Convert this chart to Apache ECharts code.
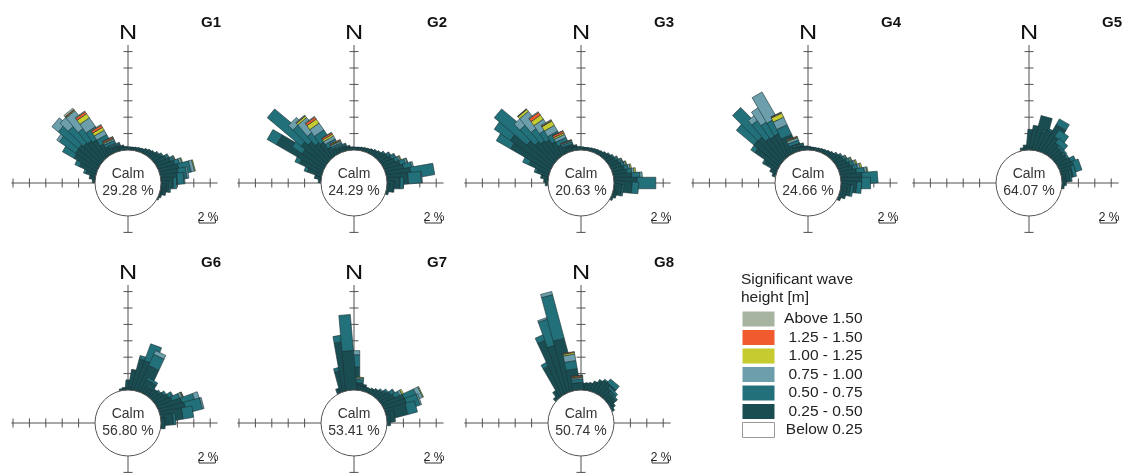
<!DOCTYPE html>
<html><head><meta charset="utf-8">
<script src="https://cdn.jsdelivr.net/npm/echarts@6/dist/echarts.min.js"></script>
<style>html,body{margin:0;padding:0;background:#fff}#c{width:1128px;height:476px}</style>
</head><body><div id="c"></div>
<script>
// ---------- DATA ----------
const STATIONS = ['G1','G2','G3','G4','G5','G6','G7','G8'];
const CALM = [29.28, 24.29, 20.63, 24.66, 64.07, 56.80, 53.41, 50.74];
const CLASS_NAMES = ['0.25 - 0.50','0.50 - 0.75','0.75 - 1.00','1.00 - 1.25','1.25 - 1.50','Above 1.50'];
const CALM_NAME = 'Below 0.25';
const LEGEND_TITLE = 'Significant wave\nheight [m]';

// directions (deg from N) and frequency (%) per wave-height class
const G1_dir = [280,285,290,295,300,305,310,315,320,325,330,335,340,345,350,355,0,5,10,15,20,25,30,35,40,45,50,55,60,65,70,75,80,85,90,95,100,105,110];
const G1_h1 = [0.3,0.6,1.2,2.2,3.2,3.3,3.3,3.0,2.8,2.5,1.6,1.0,0.7,0.5,0.4,0.35,0.3,0.3,0.3,0.35,0.4,0.45,0.5,0.6,0.7,0.8,1.0,1.2,1.5,1.8,2.1,2.4,2.2,2.0,1.5,1.0,0.6,0.3,0.15];
const G1_h2 = [0,0.1,0.3,0.6,1.6,2.4,3.2,2.6,1.8,1.4,0.8,0.4,0.2,0.1,0,0,0,0,0,0,0,0,0,0.05,0.1,0.1,0.15,0.2,0.3,0.4,0.6,1.4,1.0,0.8,0.4,0.2,0.1,0,0];
const G1_h3 = [0,0,0,0,0,0.4,1.0,1.4,2.3,1.3,0.6,0.2,0.1,0,0,0,0,0,0,0,0,0,0,0,0,0,0,0,0.1,0.15,0.3,0.4,0.2,0.1,0,0,0,0,0];
const G1_h4 = [0,0,0,0,0,0,0,0,0.1,0.6,0.4,0.1,0,0,0,0,0,0,0,0,0,0,0,0,0,0,0,0,0,0.05,0.1,0.1,0,0,0,0,0,0,0];
const G1_h5 = [0,0,0,0,0,0,0,0,0.1,0.3,0.3,0.15];
const G1_h6 = [0,0,0,0,0,0,0,0,0.2,0.1,0.1,0.05];

const G2_dir = [280,285,290,295,300,305,310,315,320,325,330,335,340,345,350,355,0,5,10,15,20,25,30,35,40,45,50,55,60,65,70,75,80,85,90,95,100];
const G2_h1 = [0.3,0.7,1.8,3.0,6.5,3.2,3.8,3.2,2.5,2.2,1.2,0.8,0.6,0.45,0.35,0.3,0.3,0.3,0.3,0.35,0.4,0.45,0.5,0.55,0.65,0.8,1.0,1.2,1.4,1.6,2.0,2.3,3.0,2.6,1.6,0.8,0.3];
const G2_h2 = [0,0.1,0.4,0.6,1.3,1.5,5.4,2.6,1.5,1.2,0.6,0.3,0.2,0.1,0,0,0,0,0,0,0,0,0,0.05,0.1,0.1,0.2,0.35,0.5,0.5,0.7,1.0,2.85,1.6,0.4,0.1,0];
const G2_h3 = [0,0,0,0,0,0,0,0.8,1.8,1.0,0.4,0.2,0.1,0,0,0,0,0,0,0,0,0,0,0,0,0,0,0.05,0.1,0.2,0.25,0.2,0,0.1,0,0,0];
const G2_h4 = [0,0,0,0,0,0,0,0,0.25,0.6,0.25,0.1,0,0,0,0,0,0,0,0,0,0,0,0,0,0,0,0,0,0.1,0.05,0,0,0,0,0,0];
const G2_h5 = [0,0,0,0,0,0,0,0,0.05,0.3,0.2,0.1];
const G2_h6 = [0,0,0,0,0,0,0,0,0.1,0.1,0.05,0];

const G3_dir = [275,280,285,290,295,300,305,310,315,320,325,330,335,340,345,350,355,0,5,10,15,20,25,30,35,40,45,50,55,60,65,70,75,80,85,90,95,100,105,110];
const G3_h1 = [0.3,0.5,0.8,1.5,2.7,5.5,6.0,4.0,3.2,2.8,2.5,1.9,1.2,0.8,0.55,0.4,0.35,0.3,0.3,0.3,0.3,0.35,0.4,0.45,0.5,0.55,0.65,0.8,0.9,1.0,1.2,1.3,1.5,1.7,2.2,2.8,2.2,1.0,0.5,0.25];
const G3_h2 = [0,0,0.1,0.3,0.8,2.0,2.4,5.2,2.6,1.8,1.3,1.0,0.6,0.3,0.1,0,0,0,0,0,0,0,0,0,0,0,0.05,0.1,0.2,0.3,0.3,0.4,0.5,0.6,1.0,2.3,0.8,0.2,0,0];
const G3_h3 = [0,0,0,0,0,0,0,0,1.0,2.2,1.2,0.8,0.4,0.15,0,0,0,0,0,0,0,0,0,0,0,0,0,0,0,0.1,0.15,0.2,0.25,0.3,0.3,0,0,0,0,0];
const G3_h4 = [0,0,0,0,0,0,0,0,0,0.3,0.6,0.6,0.2,0.05,0,0,0,0,0,0,0,0,0,0,0,0,0,0,0,0,0.05,0.1,0.15,0.2,0,0,0,0,0,0];
const G3_h5 = [0,0,0,0,0,0,0,0,0,0.05,0.4,0.1,0.25,0.05];
const G3_h6 = [0,0,0,0,0,0,0,0,0,0.05,0.1,0.1,0.05];

const G4_dir = [290,295,300,305,310,315,320,325,330,335,340,345,350,355,0,5,10,15,20,25,30,35,40,45,50,55,60,65,70,75,80,85,90,95,100,105,110];
const G4_h1 = [0.4,0.8,1.8,3.4,4.0,3.9,3.2,3.0,3.0,2.2,0.9,0.6,0.45,0.4,0.35,0.3,0.3,0.3,0.35,0.4,0.45,0.5,0.55,0.65,0.8,1.0,1.1,1.3,1.5,1.7,2.0,2.6,2.5,1.9,1.2,0.7,0.35];
const G4_h2 = [0,0,0.2,0.6,2.8,4.4,2.6,2.0,1.8,1.3,0.4,0.2,0,0,0,0,0,0,0,0,0,0,0.05,0.1,0.15,0.2,0.3,0.4,0.5,0.6,1.0,1.9,1.1,0.6,0.3,0.1,0];
const G4_h3 = [0,0,0,0,0,0,0.7,2.0,3.6,1.0,0.3,0.05,0,0,0,0,0,0,0,0,0,0,0,0,0.05,0.1,0.15,0.2,0.25,0.3,0.3,0,0,0,0,0,0];
const G4_h4 = [0,0,0,0,0,0,0,0,0,0.55,0.1,0,0,0,0,0,0,0,0,0,0,0,0,0,0,0,0.05,0.1,0.15,0.2,0.1,0,0,0,0,0,0];
const G4_h5 = [0,0,0,0,0,0,0,0,0,0.1,0.1];
const G4_h6 = [0,0,0,0,0,0,0,0,0,0.05];

const G5_dir = [355,0,5,10,15,20,25,30,35,40,45,50,55,60,65,70,75,80,85,90];
const G5_h1 = [0.3,0.6,2.5,3.0,4.3,2.4,2.8,3.8,2.4,1.8,1.5,1.4,1.3,1.4,1.7,1.8,1.4,1.0,0.5,0.25];
const G5_h2 = [0,0,0,0,0,0.2,0.2,0.8,1.0,0.7,0.3,0.2,0.2,0.3,0.6,0.8,0.4,0.2,0,0];
const G5_h3 = [];
const G5_h4 = [];
const G5_h5 = [];
const G5_h6 = [];

const G6_dir = [355,0,5,10,15,20,25,30,35,40,45,50,55,60,65,70,75,80,85,90];
const G6_h1 = [0.2,0.3,1.2,2.4,3.9,3.8,3.4,1.7,1.0,0.9,1.0,1.2,1.5,1.8,2.0,3.0,3.2,2.7,1.5,0.5];
const G6_h2 = [0,0,0,0.1,0.4,2.2,1.5,0.3,0.2,0.1,0.1,0.2,0.3,0.5,1.0,1.6,2.0,1.3,0.3,0];
const G6_h3 = [0,0,0,0,0,0,0.5,0,0,0,0,0,0,0.1,0.3,0.6,0.2,0,0,0];
const G6_h4 = [0,0,0,0,0,0,0,0,0,0,0,0,0,0,0.1,0,0,0,0,0];
const G6_h5 = [0,0,0,0,0,0,0,0,0,0,0,0,0,0,0.05,0,0,0,0,0];
const G6_h6 = [];

const G7_dir = [340,345,350,355,0,5,10,15,20,25,30,35,40,45,50,55,60,65,70,75,80,85];
const G7_h1 = [0.6,2.6,6.0,4.8,2.8,0.9,0.7,0.55,0.5,0.5,0.55,0.65,0.8,1.0,1.3,1.6,1.8,2.8,2.8,2.6,1.0,0.4];
const G7_h2 = [0,0.4,0.8,4.4,1.5,0.4,0.1,0,0,0,0,0.05,0.1,0.2,0.3,0.5,0.7,1.5,1.5,1.2,0,0];
const G7_h3 = [0,0,0,0,0.5,0.2,0,0,0,0,0,0,0,0,0,0.1,0.3,0.6,0.2,0,0,0];
const G7_h4 = [0,0,0,0,0,0.1,0,0,0,0,0,0,0,0,0,0,0.2,0.1,0,0,0,0];
const G7_h5 = [];
const G7_h6 = [];

const G8_dir = [320,325,330,335,340,345,350,355,0,5,10,15,20,25,30,35,40,45,50,55,60];
const G8_h1 = [0.4,1.0,4.0,7.0,6.0,6.5,2.6,0.9,0.8,0.7,0.8,0.9,1.0,1.3,1.6,1.8,1.8,1.3,1.0,0.6,0.3];
const G8_h2 = [0,0,0.5,0.7,3.3,5.5,1.0,0.4,0,0,0,0,0,0,0.1,0.2,0.6,0.3,0.2,0,0];
const G8_h3 = [0,0,0,0,0.2,0.4,0.8,0.2];
const G8_h4 = [0,0,0,0,0,0,0.2,0.1];
const G8_h5 = [0,0,0,0,0,0,0.1,0.15];
const G8_h6 = [0,0,0,0,0,0,0,0.05];

// ---------- STYLE / LAYOUT ----------
const FONT = "'Liberation Sans', Arial, Helvetica, sans-serif";
const COLORS = ['#1a4d52','#22707a','#6c9fab','#c6cc2f','#f05a2c','#a7b5a0'];
const BAR_EDGE = '#1b3034';
const AXIS_C = '#505050';
const CX = [128, 354, 581, 808, 1029, 128, 354, 581];
const CY = [183, 183, 183, 183, 183, 423, 423, 423];
const R_IN = 33, PX_PER_PCT = 8.2, R_MAX = 16, BAR_W = 11.5;
const ARMS = [[0, 12.8], [90, 6.9], [180, 2.0], [270, 10.2]];
const TICK_STEP = 2;

const ROSE_DIRS = [G1_dir, G2_dir, G3_dir, G4_dir, G5_dir, G6_dir, G7_dir, G8_dir];
const ROSE_CLASSES = [
  [G1_h1,G1_h2,G1_h3,G1_h4,G1_h5,G1_h6],
  [G2_h1,G2_h2,G2_h3,G2_h4,G2_h5,G2_h6],
  [G3_h1,G3_h2,G3_h3,G3_h4,G3_h5,G3_h6],
  [G4_h1,G4_h2,G4_h3,G4_h4,G4_h5,G4_h6],
  [G5_h1,G5_h2,G5_h3,G5_h4,G5_h5,G5_h6],
  [G6_h1,G6_h2,G6_h3,G6_h4,G6_h5,G6_h6],
  [G7_h1,G7_h2,G7_h3,G7_h4,G7_h5,G7_h6],
  [G8_h1,G8_h2,G8_h3,G8_h4,G8_h5,G8_h6]
];

// one stacked bar (all classes) per direction
function stackItem(params, api) {
  const ang = api.value(0);
  const c = api.coord([0, ang]), e = api.coord([1, ang]);
  let ux = e[0] - c[0], uy = e[1] - c[1];
  const L = Math.hypot(ux, uy); ux /= L; uy /= L;
  const nx = -uy * BAR_W / 2, ny = ux * BAR_W / 2;
  const children = [];
  let base = 0;
  for (let k = 0; k < COLORS.length; k++) {
    const v = api.value(k + 1) || 0;
    if (v <= 0) continue;
    const a = api.coord([base, ang]), b = api.coord([base + v, ang]);
    children.push({
      type: 'polygon',
      shape: { points: [[a[0]+nx, a[1]+ny], [b[0]+nx, b[1]+ny], [b[0]-nx, b[1]-ny], [a[0]-nx, a[1]-ny]] },
      style: { fill: COLORS[k], stroke: BAR_EDGE, lineWidth: 0.6 }
    });
    base += v;
  }
  return { type: 'group', children: children };
}

function makeAxisRender(idx) {
  return function (params, api) {
    const children = [];
    const cs = params.coordSys;
    const cx = cs.cx, cy = cs.cy;
    ARMS.forEach(function (arm) {
      const bearing = arm[0], len = arm[1];
      const a = api.coord([0, bearing]), b = api.coord([len, bearing]);
      children.push({ type: 'line', shape: { x1: a[0], y1: a[1], x2: b[0], y2: b[1] }, style: { stroke: AXIS_C, lineWidth: 1 } });
      let ux = b[0] - a[0], uy = b[1] - a[1];
      const L = Math.hypot(ux, uy); ux /= L; uy /= L;
      const nx = -uy * 4.5, ny = ux * 4.5;
      for (let t = TICK_STEP; t <= len + 1e-6; t += TICK_STEP) {
        const p = api.coord([t, bearing]);
        children.push({ type: 'line', shape: { x1: p[0]-nx, y1: p[1]-ny, x2: p[0]+nx, y2: p[1]+ny }, style: { stroke: AXIS_C, lineWidth: 1 } });
      }
    });
    const top = api.coord([ARMS[0][1], 0]);
    children.push({ type: 'text', x: top[0], y: top[1] - 1, scaleX: 1.2, originX: 0, originY: 0,
      style: { text: 'N', fontSize: 21, fill: '#111', align: 'center', verticalAlign: 'bottom', fontFamily: FONT } });
    children.push({ type: 'text', x: cx + 83, y: cy - 160, style: { text: STATIONS[idx], fontSize: 15, fontWeight: 'bold', fill: '#111', align: 'center', verticalAlign: 'middle', fontFamily: FONT } });
    // scale bar (2 %)
    const s0 = api.coord([0, 90]), s1 = api.coord([TICK_STEP, 90]);
    const sl = Math.hypot(s1[0] - s0[0], s1[1] - s0[1]);
    const bx = cx + 71, by = cy + 40;
    children.push({ type: 'polyline', shape: { points: [[bx, by - 4], [bx, by], [bx + sl, by], [bx + sl, by - 4]] }, style: { stroke: '#333', lineWidth: 1, fill: null } });
    children.push({ type: 'text', x: bx + sl / 2 + 1, y: by + 1, style: { text: TICK_STEP + ' %', fontSize: 12, fill: '#222', align: 'center', verticalAlign: 'bottom', fontFamily: FONT } });
    return { type: 'group', children: children };
  };
}

const polar = [], angleAxis = [], radiusAxis = [], series = [];
ROSE_DIRS.forEach(function (dirs, i) {
  polar.push({ center: [CX[i], CY[i]], radius: [R_IN, R_IN + PX_PER_PCT * R_MAX] });
  angleAxis.push({ polarIndex: i, type: 'value', min: 0, max: 360, startAngle: 90, clockwise: true, show: false });
  radiusAxis.push({ polarIndex: i, type: 'value', min: 0, max: R_MAX, show: false });
  series.push({
    type: 'custom', name: 'axes' + i, coordinateSystem: 'polar', polarIndex: i,
    data: [[0, 0]], encode: { angle: 0, radius: 1 }, renderItem: makeAxisRender(i),
    silent: true, animation: false, z: 1
  });
  const cls = ROSE_CLASSES[i];
  const rows = dirs.map(function (d, j) {
    return [d].concat(cls.map(function (arr) { return arr[j] || 0; }));
  }).sort(function (a, b) { return a[0] - b[0]; });
  series.push({
    type: 'custom', name: 'rose' + i, coordinateSystem: 'polar', polarIndex: i,
    encode: { angle: 0, radius: 1 }, data: rows, renderItem: stackItem,
    silent: true, animation: false, z: 2
  });
  series.push({
    type: 'pie', name: 'calm' + i, center: [CX[i], CY[i]], radius: R_IN,
    data: [{ name: CALM_NAME, value: CALM[i] }],
    itemStyle: { color: '#fff', borderColor: '#555', borderWidth: 1 },
    label: { show: true, position: 'center', formatter: 'Calm\n' + CALM[i].toFixed(2) + ' %', fontSize: 14, lineHeight: 17, color: '#333', fontFamily: FONT },
    labelLine: { show: false }, silent: true, animation: false, z: 5,
    emphasis: { disabled: true }
  });
});
// legend entries for the height classes
CLASS_NAMES.forEach(function (n, k) {
  series.push({ type: 'custom', name: n, coordinateSystem: 'polar', polarIndex: 0,
    itemStyle: { color: COLORS[k] }, data: [], renderItem: function () { return null; }, silent: true });
});

const legendData = CLASS_NAMES.map(function (n, k) { return { name: n, itemStyle: { color: COLORS[k], borderWidth: 0 } }; }).reverse();
legendData.push({ name: CALM_NAME, itemStyle: { color: '#fff', borderColor: '#999', borderWidth: 1 } });

const chart = echarts.init(document.getElementById('c'), null, { renderer: 'canvas' });
chart.setOption({
  animation: false,
  backgroundColor: '#fff',
  title: { text: LEGEND_TITLE, left: 741, top: 270, padding: 0, textStyle: { fontSize: 15.5, fontWeight: 'normal', color: '#222', lineHeight: 18.5, fontFamily: FONT } },
  legend: {
    left: 742, top: 311, orient: 'vertical', padding: 0, itemWidth: 32, itemHeight: 15, itemGap: 2.5,
    icon: 'rect', selectedMode: false, data: legendData,
    formatter: function (n) { return '{a|' + n + '}'; },
    textStyle: { fontSize: 15.5, lineHeight: 15, color: '#222', fontFamily: FONT, rich: { a: { width: 83, align: 'right', fontSize: 15.5, lineHeight: 15, color: '#222', fontFamily: FONT } } }
  },
  polar: polar, angleAxis: angleAxis, radiusAxis: radiusAxis, series: series
});
</script></body></html>
